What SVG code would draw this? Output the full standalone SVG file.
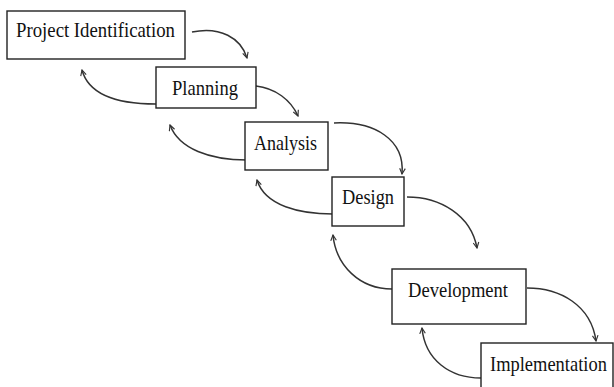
<svg xmlns="http://www.w3.org/2000/svg" width="614" height="387" viewBox="0 0 614 387">
<style>
.box{fill:#fff;stroke:#222;stroke-width:1.4}
.lbl{font-family:"Liberation Serif","Times New Roman",serif;font-size:22px;fill:#111}
.con{fill:none;stroke:#333;stroke-width:1.5;marker-end:url(#ah)}
</style>
<defs>
<marker id="ah" viewBox="0 0 10 10" refX="9" refY="5" markerWidth="7" markerHeight="7" orient="auto" markerUnits="userSpaceOnUse">
<path d="M1,1 L9,5 L1,9" fill="none" stroke="#333" stroke-width="1.6"/>
</marker>
</defs>
<rect width="614" height="387" fill="#fff"/>
<g id="connectors">
<path class="con" d="M192,32 C220,26 241,38 247,58"/>
<path class="con" d="M256,86 C275,88 291,100 298,116"/>
<path class="con" d="M334,123 C375,121 405,140 402,174"/>
<path class="con" d="M407,197 C440,197 471,215 477,248"/>
<path class="con" d="M527,288 C560,288 591,305 596,341"/>
<path class="con" d="M156,104 C120,104 89,96 82,70"/>
<path class="con" d="M247,160 C210,160 179,149 170,125"/>
<path class="con" d="M333,214 C300,214 265,206 257,180"/>
<path class="con" d="M392,289 C360,289 336,266 333,235"/>
<path class="con" d="M481,378 C450,378 425,360 422,328"/>
</g>
<g id="project-identification">
<rect class="box" x="7" y="11" width="178" height="48"/>
<text class="lbl" x="16" y="37" textLength="159" lengthAdjust="spacingAndGlyphs">Project Identification</text>
</g>
<g id="planning">
<rect class="box" x="156" y="67" width="100" height="41"/>
<text class="lbl" x="172" y="95" textLength="66" lengthAdjust="spacingAndGlyphs">Planning</text>
</g>
<g id="analysis">
<rect class="box" x="245" y="122" width="83" height="48"/>
<text class="lbl" x="254" y="150" textLength="63" lengthAdjust="spacingAndGlyphs">Analysis</text>
</g>
<g id="design">
<rect class="box" x="332" y="177" width="72" height="49"/>
<text class="lbl" x="342" y="204" textLength="52" lengthAdjust="spacingAndGlyphs">Design</text>
</g>
<g id="development">
<rect class="box" x="392" y="269" width="134" height="55"/>
<text class="lbl" x="408" y="297" textLength="100" lengthAdjust="spacingAndGlyphs">Development</text>
</g>
<g id="implementation">
<rect class="box" x="481" y="343" width="132" height="60"/>
<text class="lbl" transform="translate(490,371) scale(0.84,1)" x="0" y="0">Implementation</text>
</g>
</svg>
